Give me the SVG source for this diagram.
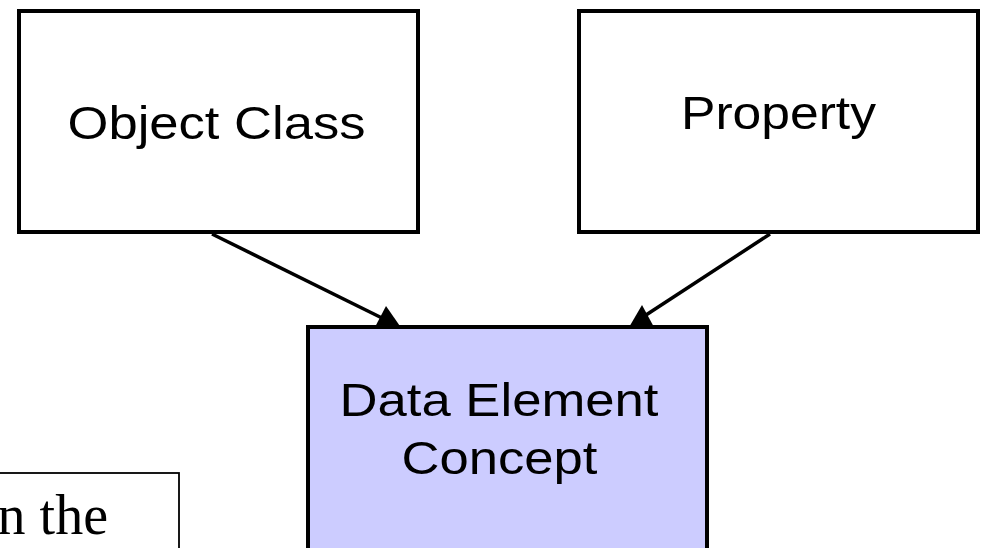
<svg xmlns="http://www.w3.org/2000/svg" width="988" height="548" viewBox="0 0 988 548">
<style>
.box{fill:#ffffff;stroke:#000000;stroke-width:4}
.dec{fill:#ccccff;stroke:#000000;stroke-width:4}
.lbl{font-family:"Liberation Sans",Arial,sans-serif;font-size:47px;fill:#000000;text-anchor:middle}
.serif{font-family:"Liberation Serif","Times New Roman",serif;font-size:56px;fill:#000000}
.conn{stroke:#000000;stroke-width:3.5;fill:none}
.head{fill:#000000;stroke:none}
</style>
<rect width="988" height="548" fill="#ffffff"/>
<g id="node-object-class">
<rect class="box" x="19" y="11" width="399" height="221"/>
<text class="lbl" x="216.5" y="139" textLength="298" lengthAdjust="spacingAndGlyphs">Object Class</text>
</g>
<g id="node-property">
<rect class="box" x="579" y="11" width="399" height="221"/>
<text class="lbl" x="778.5" y="129" textLength="195" lengthAdjust="spacingAndGlyphs">Property</text>
</g>
<g id="node-dec">
<rect class="dec" x="308" y="327" width="399" height="240"/>
<text class="lbl" x="499" y="416" textLength="319" lengthAdjust="spacingAndGlyphs">Data Element</text>
<text class="lbl" x="499.5" y="474" textLength="196" lengthAdjust="spacingAndGlyphs">Concept</text>
</g>
<g id="node-note">
<rect x="-10" y="473" width="189" height="100" fill="#ffffff" stroke="#000000" stroke-width="1.8"/>
<text class="serif" x="108" y="534" text-anchor="end">n the</text>
</g>
<g id="connectors">
<line class="conn" x1="212" y1="234" x2="382" y2="318"/>
<polygon class="head" points="386,306 402,329 374,329"/>
<line class="conn" x1="770" y1="234" x2="646" y2="315"/>
<polygon class="head" points="642,305 655,329 628,329"/>
</g>
</svg>
